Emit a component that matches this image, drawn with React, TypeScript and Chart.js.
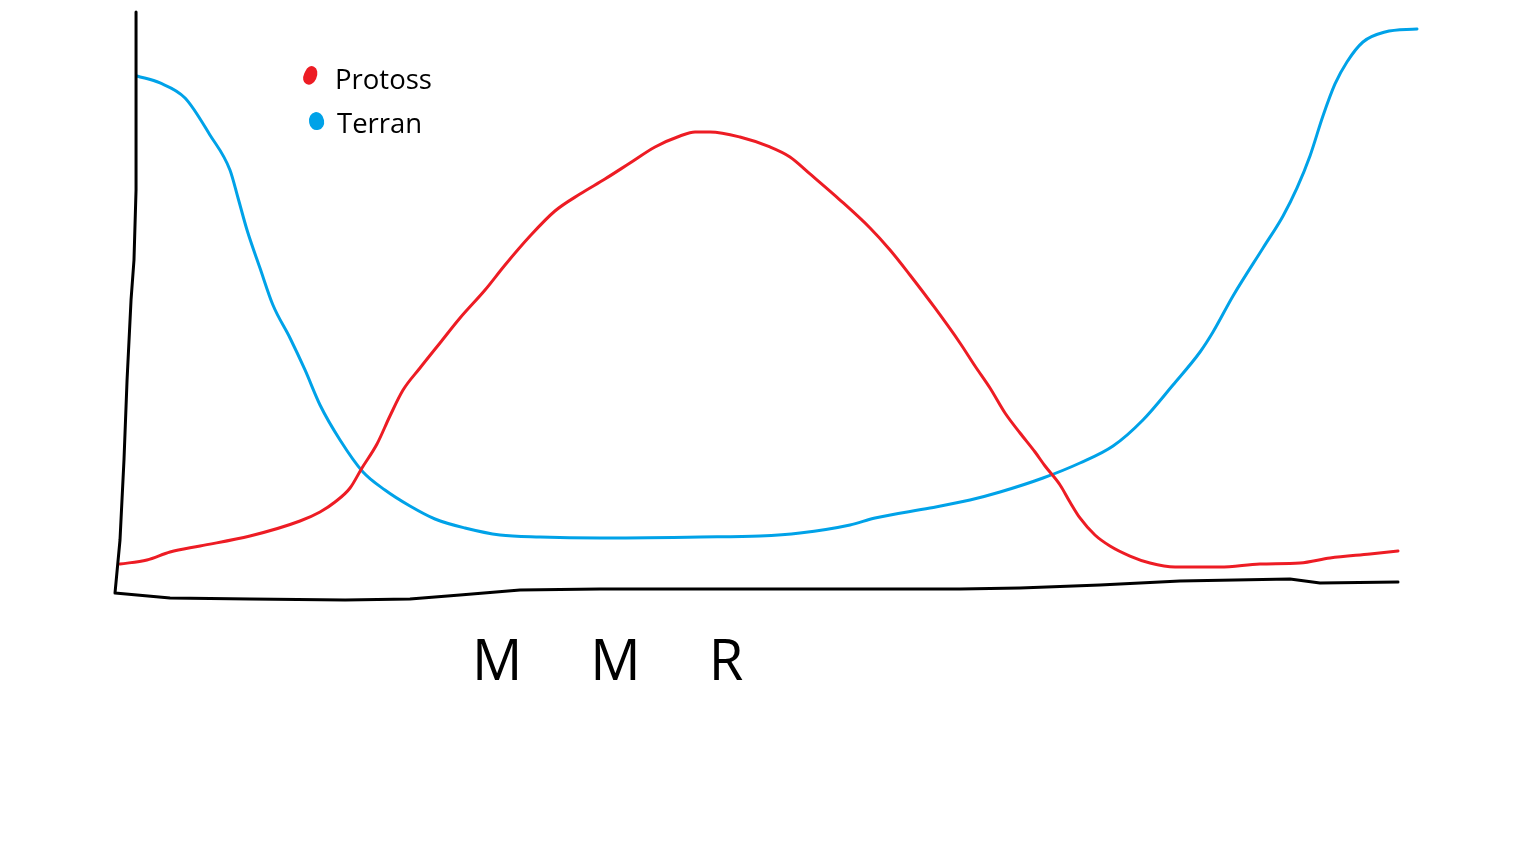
import React, { useEffect, useRef } from "react";
import { Chart, registerables } from "chart.js";

Chart.register(...registerables);

// MMR position (0 = left end of the drawn axis, 100 = right end)
const protossMMR = [0.39, 2.49, 4.29, 6.63, 10.52, 14.42, 15.98, 17.15, 18.32, 19.25, 20.42, 21.43, 22.45, 23.77, 25.33, 26.89, 28.84, 30.4, 32.35, 34.29, 36.24, 38.19, 40.14, 42.09, 44.04, 45.21, 46.38, 48.71, 51.05, 52.61, 54.17, 56.51, 58.85, 60.41, 61.96, 63.91, 65.86, 67.03, 68.2, 69.37, 70.54, 71.71, 72.49, 73.66, 74.43, 75.21, 76.38, 77.55, 79.11, 80.67, 82.62, 86.13, 89.24, 92.36, 94.7, 97.82, 100];
const protossShare = [4.64, 5.36, 6.79, 7.86, 9.64, 12.32, 13.93, 15.71, 18.21, 21.79, 26.07, 31.07, 35.71, 39.64, 44.11, 48.57, 53.57, 58.04, 63.21, 67.68, 70.71, 73.39, 76.25, 79.11, 81.07, 81.79, 81.79, 80.89, 79.11, 77.32, 74.29, 69.64, 64.64, 60.71, 56.25, 50.36, 44.11, 40.0, 36.07, 31.61, 28.04, 24.64, 22.14, 18.75, 15.71, 12.86, 9.82, 7.86, 6.07, 4.82, 4.11, 4.11, 4.64, 4.82, 5.71, 6.43, 6.96];

const terranMMR = [1.71, 3.51, 5.46, 7.4, 8.96, 9.59, 10.29, 11.3, 12.31, 13.64, 14.81, 15.98, 17.54, 19.33, 21.04, 22.99, 24.94, 27.28, 30.01, 33.13, 37.8, 45.6, 50.27, 53.39, 57.29, 59.24, 63.52, 66.64, 68.98, 72.33, 75.21, 77.79, 80.12, 82.46, 84.57, 85.58, 87.14, 89.48, 91.04, 92.13, 93.14, 94.15, 95.09, 96.02, 97.27, 98.99, 101.48];
const terranShare = [91.79, 90.54, 87.86, 81.25, 75.0, 70.0, 64.29, 57.5, 50.89, 45.0, 39.29, 33.04, 26.79, 21.07, 17.86, 15.0, 12.68, 11.07, 9.82, 9.46, 9.29, 9.46, 9.64, 10.18, 11.61, 12.86, 14.64, 16.07, 17.5, 20.0, 22.68, 25.71, 30.36, 36.61, 42.5, 46.07, 52.5, 61.07, 66.79, 71.79, 77.5, 84.64, 90.36, 94.29, 97.86, 99.64, 100.18];

// hand-drawn axes (vertical stroke then horizontal stroke)
const axisX = [1.64, 1.64, 1.48, 1.25, 0.94, 0.7, 0.39, 0, 4.29, 10.52, 17.93, 22.99, 26.89, 31.57, 37.8, 50.27, 65.86, 70.54, 76.77, 83.01, 91.58, 93.92, 100];
const axisY = [103.21, 71.43, 58.93, 51.79, 37.5, 23.21, 8.93, -0.54, -1.43, -1.61, -1.79, -1.61, -0.89, 0, 0.18, 0.18, 0.18, 0.36, 0.89, 1.61, 1.96, 1.25, 1.43];

const seriesNames = ["Protoss", "Terran"];
const seriesColors = ["#ED1C24", "#00A2E8"];
const axisTitle = "MMR";

const toPoints = (xs: number[], ys: number[]) => xs.map((x, i) => ({ x, y: ys[i] }));

export default function App() {
  const ref = useRef<HTMLCanvasElement>(null);

  useEffect(() => {
    document.body.style.margin = "0";
    const chart = new Chart(ref.current as HTMLCanvasElement, {
      type: "line",
      data: {
        datasets: [
          {
            label: "axes",
            data: toPoints(axisX, axisY),
            borderColor: "#000000",
            borderWidth: 3,
            tension: 0,
            clip: false as any,
            borderCapStyle: "round",
            borderJoinStyle: "round",
          },
          {
            label: seriesNames[0],
            data: toPoints(protossMMR, protossShare),
            borderColor: seriesColors[0],
            borderWidth: 3,
            cubicInterpolationMode: "monotone",
            clip: false as any,
            borderCapStyle: "round",
          },
          {
            label: seriesNames[1],
            data: toPoints(terranMMR, terranShare),
            borderColor: seriesColors[1],
            borderWidth: 3,
            cubicInterpolationMode: "monotone",
            clip: false as any,
            borderCapStyle: "round",
          },
        ],
      },
      options: {
        animation: false,
        responsive: false,
        maintainAspectRatio: false,
        layout: { padding: { left: 115, right: 138, top: 30, bottom: 274 } },
        scales: {
          x: { type: "linear", min: 0, max: 100, display: false },
          y: { type: "linear", min: 0, max: 100, display: false },
        },
        elements: { point: { radius: 0, hoverRadius: 0 } },
        plugins: { legend: { display: false }, tooltip: { enabled: false }, title: { display: false } },
        events: [],
      },
    });
    return () => chart.destroy();
  }, []);

  const legendText: React.CSSProperties = {
    position: "absolute",
    fontFamily: "'Open Sans', sans-serif",
    fontSize: "27.5px",
    lineHeight: "27.5px",
    color: "#000",
    whiteSpace: "nowrap",
  };

  return (
    <div style={{ position: "absolute", left: 0, top: 0, width: 1536, height: 864, background: "#fff", overflow: "hidden" }}>
      <canvas ref={ref} width={1536} height={864} style={{ position: "absolute", left: 0, top: 0, width: 1536, height: 864 }} />
      <div
        style={{
          position: "absolute",
          left: 304,
          top: 66,
          width: 13,
          height: 19,
          background: seriesColors[0],
          borderRadius: "45% 60% 50% 50%",
          transform: "rotate(25deg)",
        }}
      />
      <div
        style={{
          position: "absolute",
          left: 309,
          top: 112,
          width: 15,
          height: 18,
          background: seriesColors[1],
          borderRadius: "50% 50% 45% 45%",
          transform: "rotate(-10deg)",
        }}
      />
      <div style={{ ...legendText, left: 335, top: 65 }}>{seriesNames[0]}</div>
      <div style={{ ...legendText, left: 337, top: 109 }}>{seriesNames[1]}</div>
      <div
        style={{
          position: "absolute",
          left: 472,
          top: 630,
          fontFamily: "'Open Sans', sans-serif",
          fontSize: "56px",
          lineHeight: "56px",
          letterSpacing: "68px",
          color: "#000",
          whiteSpace: "nowrap",
        }}
      >
        {axisTitle}
      </div>
    </div>
  );
}
